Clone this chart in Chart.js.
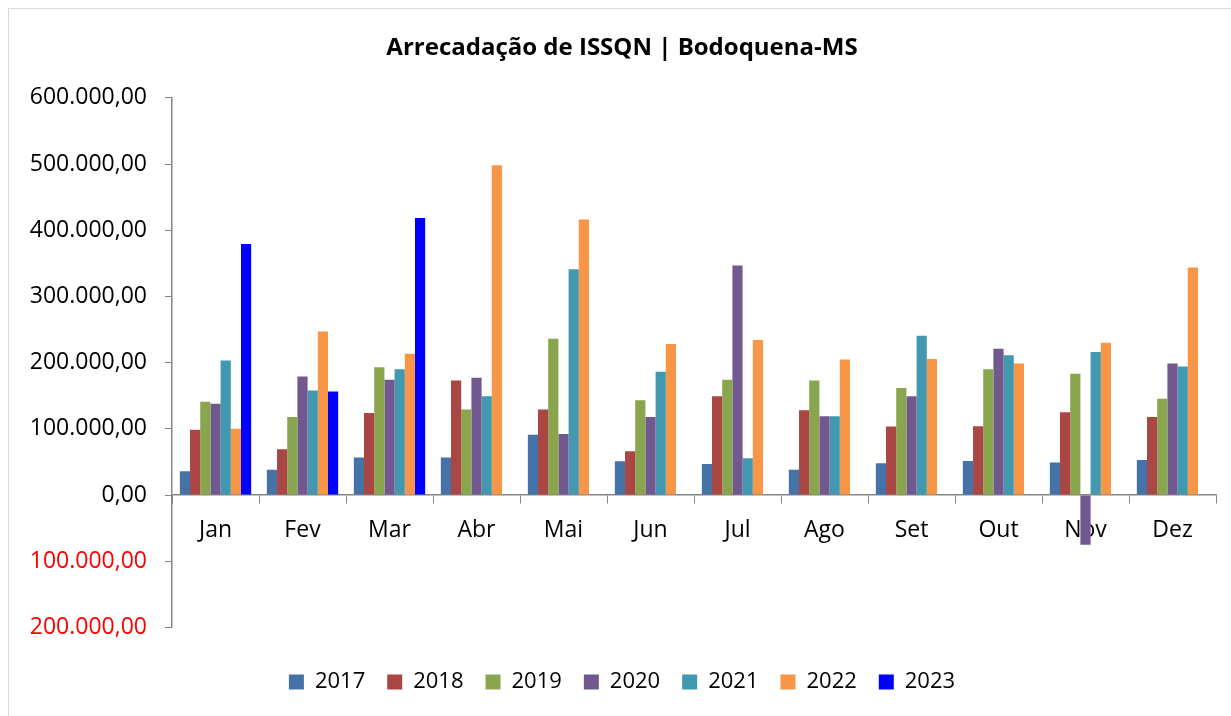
<!DOCTYPE html>
<html>
<head>
<meta charset="utf-8">
<script src="https://cdn.jsdelivr.net/npm/chart.js@4/dist/chart.umd.min.js"></script>
<style>
  html, body { margin: 0; padding: 0; background: #fff; }
  #wrap { position: relative; width: 1231px; height: 716px; overflow: hidden; }
  #moldura { position: absolute; left: 8px; top: 8px; width: 1240px; height: 720px; border: 1px solid #d9d9d9; box-sizing: border-box; }
  canvas { position: absolute; left: 0; top: 0; }
</style>
</head>
<body>
<div id="wrap">
  <div id="moldura"></div>
  <canvas id="grafico" width="1231" height="716"></canvas>
</div>
<script>
// DADOS
const meses = ['Jan', 'Fev', 'Mar', 'Abr', 'Mai', 'Jun', 'Jul', 'Ago', 'Set', 'Out', 'Nov', 'Dez'];
const anos = ['2017', '2018', '2019', '2020', '2021', '2022', '2023'];

const v2017 = [36000, 38000, 56500, 56500, 91000, 51000, 47000, 38000, 48000, 51500, 49000, 53000];
const v2018 = [98500, 69000, 124000, 173000, 129000, 66000, 149000, 128000, 103500, 104000, 125000, 118000];
const v2019 = [141000, 118000, 193000, 129000, 236000, 143000, 174000, 173000, 161500, 190000, 183000, 145500];
const v2020 = [138000, 179000, 174000, 177000, 92000, 118000, 346500, 119000, 149000, 221000, -75000, 198500];
const v2021 = [203000, 158000, 190000, 149000, 341000, 186000, 55500, 119000, 240500, 211000, 216000, 194000];
const v2022 = [100000, 247000, 213500, 498000, 416000, 228000, 234000, 204500, 205500, 198500, 230000, 343500];
const v2023 = [379000, 156500, 418500, null, null, null, null, null, null, null, null, null];

const cores = ['#4572A7', '#AA4643', '#89A54E', '#71588F', '#4198AF', '#F79646', '#0000FF'];
const series = [v2017, v2018, v2019, v2020, v2021, v2022, v2023];

// formato 600.000,00 (negativo sem sinal, em vermelho)
function formata(v) {
  const p = Math.abs(v).toFixed(2).split('.');
  return p[0].replace(/\B(?=(\d{3})+(?!\d))/g, '.') + ',' + p[1];
}

const fonte = "'Open Sans', sans-serif";
const cinza = '#868686';
const margemEsq = 28;

new Chart(document.getElementById('grafico'), {
  type: 'bar',
  data: {
    labels: meses,
    datasets: anos.map((a, i) => ({
      label: a,
      data: series[i],
      backgroundColor: cores[i],
      borderWidth: 0,
      categoryPercentage: 0.82,
      barPercentage: 1.0
    }))
  },
  options: {
    responsive: false,
    animation: false,
    layout: { padding: { left: margemEsq, right: 15, top: 0, bottom: 13 } },
    scales: {
      x: {
        position: { y: 0 },
        grid: { display: true, drawOnChartArea: false, offset: true, color: cinza, tickLength: 8 },
        border: { color: cinza, width: 1.5 },
        ticks: { color: '#000', font: { family: fonte, size: 23 }, padding: 14 }
      },
      y: {
        min: -200000,
        max: 600000,
        afterFit: s => { s.width = 172 - margemEsq; },
        grid: { display: true, drawOnChartArea: false, color: cinza, tickLength: 7 },
        border: { color: cinza, width: 1.5 },
        ticks: {
          stepSize: 100000,
          padding: 18,
          font: { family: fonte, size: 23 },
          color: ctx => ctx.tick && ctx.tick.value < 0 ? '#ff0000' : '#000',
          callback: v => formata(v)
        }
      }
    },
    plugins: {
      title: {
        display: true,
        text: 'Arrecadação de ISSQN | Bodoquena-MS',
        color: '#000',
        font: { family: fonte, size: 24, weight: 'bold' },
        padding: { top: 34, bottom: 35 }
      },
      legend: {
        position: 'bottom',
        title: { display: true, text: ' ', padding: 0, font: { size: 18 } },
        labels: {
          color: '#000',
          font: { family: fonte, size: 22 },
          boxWidth: 15,
          boxHeight: 15,
          padding: 22
        }
      },
      tooltip: { enabled: false }
    }
  }
});
</script>
</body>
</html>
